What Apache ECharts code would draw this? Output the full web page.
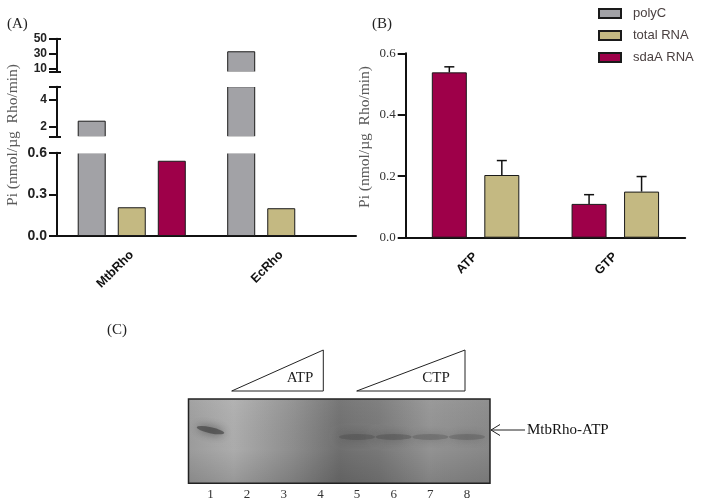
<!DOCTYPE html>
<html>
<head>
<meta charset="utf-8">
<script src="https://cdn.jsdelivr.net/npm/echarts@6/dist/echarts.min.js"></script>
<style>
html,body{margin:0;padding:0;background:#fff;}
#main{width:711px;height:504px;}
</style>
</head>
<body>
<div id="main"></div>
<script>
// ---------- Data ----------
// Panel A
const catsA = ['MtbRho', 'EcRho'];
const polyC_A = [2.45, 33];
const totalRNA_A = [0.207, 0.2];
const sdaA_A = [0.542, null];
const lowTicksA = [0, 0.3, 0.6];
const midLabelsA = [2, 4];
const topLabelsA = [10, 30, 50];
// Panel B
const catsB = ['ATP', 'GTP'];
const sdaA_B = [0.538, 0.11];
const sdaA_B_err = [0.018, 0.03];
const totalRNA_B = [0.204, 0.15];
const totalRNA_B_err = [0.047, 0.049];
// Panel C (gel)
const lanes = [1, 2, 3, 4, 5, 6, 7, 8];
const bandIntensity = [0.65, 0, 0, 0, 0.3, 0.33, 0.27, 0.27];
const bandMigration = [0.37, 0.45, 0.45, 0.45, 0.45, 0.45, 0.45, 0.45];

// ---------- Styles ----------
const C_POLY = '#a2a2a6', C_TOT = '#c4b982', C_SDA = '#9e0049';
const SANS = 'Liberation Sans, Arial, sans-serif';
const SERIF = 'Liberation Serif, Times New Roman, serif';
const border = {borderColor: '#1a1a1a', borderWidth: 1};

const chart = echarts.init(document.getElementById('main'));

const gA = {left: 57, width: 299};
function yAxisA(idx, min, max, labelVals, tickVals, fmt, fs) {
  return {
    type: 'value', gridIndex: idx, min: min, max: max,
    axisLine: {show: true, lineStyle: {color: '#111', width: 2}},
    axisTick: {show: true, length: 8, lineStyle: {color: '#111', width: 2}, customValues: tickVals},
    axisLabel: {color: '#222', fontFamily: SANS, fontWeight: 'bold', fontSize: fs, margin: 10,
      customValues: labelVals, formatter: fmt},
    splitLine: {show: false}
  };
}
function capAxis(idx, min, max, capVals) {
  return {
    type: 'value', gridIndex: idx, min: min, max: max, position: 'left', offset: 0,
    axisLine: {show: false},
    axisTick: {show: true, inside: true, length: 4, lineStyle: {color: '#111', width: 2}, customValues: capVals},
    axisLabel: {show: false}, splitLine: {show: false}
  };
}
function hiddenX(idx, cats) {
  return {type: 'category', gridIndex: idx, data: cats, show: false};
}

const errRender = (offset) => function (params, api) {
  const p0 = api.coord([api.value(0), api.value(1)]);
  const p1 = api.coord([api.value(0), api.value(1) + api.value(2)]);
  const x = p0[0] + offset;
  const st = {stroke: '#111', lineWidth: 1.5};
  return {type: 'group', children: [
    {type: 'line', shape: {x1: x, y1: p0[1], x2: x, y2: p1[1]}, style: st},
    {type: 'line', shape: {x1: x - 5, y1: p1[1], x2: x + 5, y2: p1[1]}, style: st}
  ]};
};

const series = [];
// Panel A: three stacked grids (broken axis)
[0, 1, 2].forEach(g => {
  series.push({name: 'polyC', type: 'bar', xAxisIndex: g, yAxisIndex: g, data: polyC_A,
    barWidth: 28, barGap: '43%', itemStyle: Object.assign({color: C_POLY}, border), clip: true});
  series.push({name: 'total RNA', type: 'bar', xAxisIndex: g, yAxisIndex: g, data: totalRNA_A,
    barWidth: 28, barGap: '43%', itemStyle: Object.assign({color: C_TOT}, border), clip: true});
  series.push({name: 'sdaA RNA', type: 'bar', xAxisIndex: g, yAxisIndex: g, data: sdaA_A,
    barWidth: 28, barGap: '43%', itemStyle: Object.assign({color: C_SDA}, border), clip: true});
});
// Panel B
series.push({name: 'sdaA RNA', type: 'bar', xAxisIndex: 3, yAxisIndex: 6, data: sdaA_B,
  barWidth: 35, barGap: '50%', itemStyle: Object.assign({color: C_SDA}, border)});
series.push({name: 'total RNA', type: 'bar', xAxisIndex: 3, yAxisIndex: 6, data: totalRNA_B,
  barWidth: 35, barGap: '50%', itemStyle: Object.assign({color: C_TOT}, border)});
series.push({type: 'custom', xAxisIndex: 3, yAxisIndex: 6, z: 5, silent: true,
  data: sdaA_B.map((v, i) => [i, v, sdaA_B_err[i]]), encode: {x: 0, y: 1},
  renderItem: errRender(-26.25)});
series.push({type: 'custom', xAxisIndex: 3, yAxisIndex: 6, z: 5, silent: true,
  data: totalRNA_B.map((v, i) => [i, v, totalRNA_B_err[i]]), encode: {x: 0, y: 1},
  renderItem: errRender(26.25)});
// Panel C: gel bands
series.push({type: 'scatter', xAxisIndex: 4, yAxisIndex: 7, z: 3, silent: true,
  symbol: 'circle',
  data: lanes.map((l, i) => ({value: [l, bandMigration[i]],
      symbolSize: i === 0 ? [28, 6] : [36, 6],
      symbolRotate: i === 0 ? -12 : 0,
      itemStyle: {opacity: bandIntensity[i]}}))
    .filter((d, i) => bandIntensity[i] > 0),
  itemStyle: {color: '#404040', shadowBlur: 10, shadowColor: 'rgba(40,40,40,1)'}
});

const gelGrad = new echarts.graphic.LinearGradient(0, 0, 1, 0, [
  {offset: 0, color: '#9e9e9e'}, {offset: 0.15, color: '#afafaf'},
  {offset: 0.35, color: '#8f8f8f'}, {offset: 0.5, color: '#717171'},
  {offset: 0.63, color: '#7a7a7a'}, {offset: 0.8, color: '#959595'},
  {offset: 1, color: '#8a8a8a'}]);
const gelShade = new echarts.graphic.LinearGradient(0, 0, 0, 1, [
  {offset: 0, color: 'rgba(255,255,255,0.05)'}, {offset: 0.6, color: 'rgba(0,0,0,0.02)'},
  {offset: 1, color: 'rgba(0,0,0,0.14)'}]);

const option = {
  backgroundColor: '#fff',
  animation: false,
  legend: {
    orient: 'vertical', left: 598, top: 7, padding: 0, itemWidth: 22, itemHeight: 9, itemGap: 9,
    icon: 'rect', data: ['polyC', 'total RNA', 'sdaA RNA'],
    textStyle: {fontFamily: SANS, fontSize: 13, color: '#4a4040', padding: [0, 0, 0, 7]}
  },
  grid: [
    Object.assign({top: 152.7, height: 83.3, outerBoundsMode: 'none'}, gA),
    Object.assign({top: 86.7, height: 50, outerBoundsMode: 'none'}, gA),
    Object.assign({top: 38.7, height: 33.3, outerBoundsMode: 'none'}, gA),
    {left: 405.7, width: 279.5, top: 53.3, height: 184.4, outerBoundsMode: 'none'},
    {left: 188.5, width: 301.5, top: 399, height: 84.3, outerBoundsMode: 'none'}
  ],
  xAxis: [
    {type: 'category', gridIndex: 0, data: catsA,
      axisLine: {lineStyle: {color: '#111', width: 2}},
      axisTick: {alignWithLabel: true, length: 6, lineStyle: {color: '#111', width: 2}},
      axisLabel: {rotate: 45, color: '#111', fontFamily: SANS, fontWeight: 'bold', fontSize: 12.5, margin: 17}},
    hiddenX(1, catsA), hiddenX(2, catsA),
    {type: 'category', gridIndex: 3, data: catsB,
      axisLine: {lineStyle: {color: '#111', width: 2}},
      axisTick: {alignWithLabel: true, length: 6, lineStyle: {color: '#111', width: 2}},
      axisLabel: {rotate: 45, color: '#111', fontFamily: SANS, fontWeight: 'bold', fontSize: 12.5, margin: 17}},
    {type: 'value', gridIndex: 4, min: 0.4, max: 8.63,
      axisLine: {show: false}, axisTick: {show: false}, splitLine: {show: false},
      axisLabel: {customValues: lanes, color: '#333', fontFamily: SERIF, fontSize: 13, margin: 5}}
  ],
  yAxis: [
    yAxisA(0, 0, 0.6, lowTicksA, lowTicksA, v => v.toFixed(1), 14),
    yAxisA(1, 1.25, 5, midLabelsA, [1.25].concat(midLabelsA, [5]), v => String(v), 12),
    yAxisA(2, 5, 50, topLabelsA, [5].concat(topLabelsA), v => String(v), 12),
    capAxis(0, 0, 0.6, [0.6]),
    capAxis(1, 1.25, 5, [1.25, 5]),
    capAxis(2, 5, 50, [5, 50]),
    {type: 'value', gridIndex: 3, min: 0, max: 0.6, interval: 0.2,
      axisLine: {show: true, lineStyle: {color: '#111', width: 2}},
      axisTick: {show: true, length: 8, lineStyle: {color: '#111', width: 2}},
      axisLabel: {color: '#333', fontFamily: SERIF, fontSize: 13, margin: 10, formatter: v => v.toFixed(1)},
      splitLine: {show: false}},
    {type: 'value', gridIndex: 4, min: 0, max: 1, inverse: true, show: false}
  ],
  graphic: [
    // white gaps of the broken axis (hide the cut edges of clipped bars)
    {type: 'rect', z: 20, shape: {x: 63, y: 136.3, width: 292, height: 17.1}, style: {fill: '#fff'}},
    {type: 'rect', z: 20, shape: {x: 63, y: 71.6, width: 292, height: 15.5}, style: {fill: '#fff'}},
    {type: 'text', left: 7, top: 17, style: {text: '(A)', font: '15px ' + SERIF, fill: '#222'}},
    {type: 'text', left: 372, top: 17, style: {text: '(B)', font: '15px ' + SERIF, fill: '#222'}},
    {type: 'text', left: 107, top: 323, style: {text: '(C)', font: '15px ' + SERIF, fill: '#222'}},
    {type: 'text', x: 13, y: 135, rotation: Math.PI / 2,
      style: {text: 'Pi (nmol/µg  Rho/min)', font: '15.5px ' + SERIF, fill: '#5a5a5a', align: 'center', verticalAlign: 'middle'}},
    {type: 'text', x: 365, y: 137, rotation: Math.PI / 2,
      style: {text: 'Pi (nmol/µg  Rho/min)', font: '15.5px ' + SERIF, fill: '#5a5a5a', align: 'center', verticalAlign: 'middle'}},
    // gel background
    {type: 'rect', z: 0, shape: {x: 188.5, y: 399, width: 301.5, height: 84.3}, style: {fill: gelGrad}},
    {type: 'rect', z: 1, shape: {x: 188.5, y: 399, width: 301.5, height: 84.3},
      style: {fill: gelShade, stroke: '#222', lineWidth: 1.5}},
    // triangles
    {type: 'polygon', shape: {points: [[231.7, 391], [323.3, 391], [323.3, 350]]},
      style: {fill: '#fff', stroke: '#222', lineWidth: 1}},
    {type: 'polygon', shape: {points: [[356.7, 391], [465, 391], [465, 350]]},
      style: {fill: '#fff', stroke: '#222', lineWidth: 1}},
    {type: 'text', x: 300, y: 378, style: {text: 'ATP', font: '15px ' + SERIF, fill: '#222', align: 'center', verticalAlign: 'middle'}},
    {type: 'text', x: 436, y: 378, style: {text: 'CTP', font: '15px ' + SERIF, fill: '#222', align: 'center', verticalAlign: 'middle'}},
    // arrow
    {type: 'polyline', shape: {points: [[491, 430], [525, 430]]}, style: {stroke: '#222', lineWidth: 1}},
    {type: 'polyline', shape: {points: [[500, 424.5], [491, 430], [500, 435.5]]}, style: {stroke: '#222', lineWidth: 1, fill: null}},
    {type: 'text', x: 527, y: 430, style: {text: 'MtbRho-ATP', font: '15px ' + SERIF, fill: '#111', align: 'left', verticalAlign: 'middle'}}
  ],
  series: series
};
chart.setOption(option);
</script>
</body>
</html>
